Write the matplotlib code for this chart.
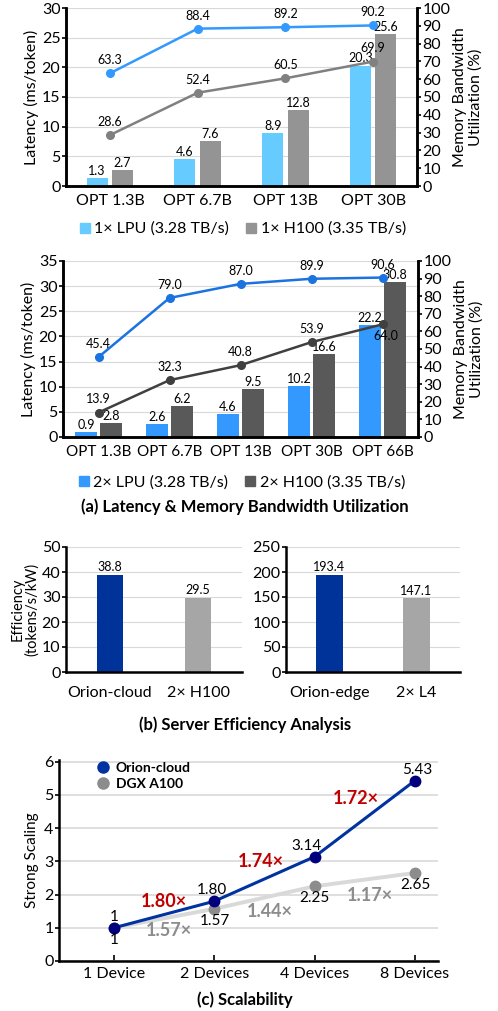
import numpy as np
import matplotlib
matplotlib.use('Agg')
import matplotlib.pyplot as plt
from matplotlib.lines import Line2D

plt.rcParams['font.family'] = ['Lato', 'DejaVu Sans']

W, H = 498, 1011

# ---- datos (a) ----
models_1 = ['OPT 1.3B', 'OPT 6.7B', 'OPT 13B', 'OPT 30B']
lat_lpu_1 = [1.3, 4.6, 8.9, 20.3]
lat_h100_1 = [2.7, 7.6, 12.8, 25.6]
util_lpu_1 = [63.3, 88.4, 89.2, 90.2]
util_h100_1 = [28.6, 52.4, 60.5, 69.9]

models_2 = ['OPT 1.3B', 'OPT 6.7B', 'OPT 13B', 'OPT 30B', 'OPT 66B']
lat_lpu_2 = [0.9, 2.6, 4.6, 10.2, 22.2]
lat_h100_2 = [2.8, 6.2, 9.5, 16.6, 30.8]
util_lpu_2 = [45.4, 79.0, 87.0, 89.9, 90.6]
util_h100_2 = [13.9, 32.3, 40.8, 53.9, 64.0]

# ---- datos (b) ----
cloud_names = ['Orion-cloud', '2× H100']
cloud_eff = [38.8, 29.5]
edge_names = ['Orion-edge', '2× L4']
edge_eff = [193.4, 147.1]

# ---- datos (c) ----
devices = ['1 Device', '2 Devices', '4 Devices', '8 Devices']
orion_scaling = [1, 1.80, 3.14, 5.43]
dgx_scaling = [1, 1.57, 2.25, 2.65]
orion_step = ['1.80×', '1.74×', '1.72×']
dgx_step = ['1.57×', '1.44×', '1.17×']

TICK = 11.5
VAL = 9


def rect(l, t, r, b):
    return [l / W, 1 - b / H, (r - l) / W, (b - t) / H]


def style_axes(ax, right=False):
    for s in ['left', 'bottom', 'right']:
        ax.spines[s].set_linewidth(1.8)
        ax.spines[s].set_color('black')
    ax.spines['top'].set_visible(False)
    if not right:
        ax.spines['right'].set_visible(False)


fig = plt.figure(figsize=(W / 100, H / 100), dpi=100)

# ============================================================================
# (a) paneles de latencia
# ============================================================================
def latency_panel(box, models, lpu, h100, u_lpu, u_h100, ymax, cols, lcols,
                  off, bw, labels, lbl_fix, xfs, leg_y):
    ax = fig.add_axes(rect(*box))
    x = np.arange(len(models))
    ax.bar(x - off, lpu, bw, color=cols[0], zorder=2)
    ax.bar(x + off, h100, bw, color=cols[1], zorder=2)
    for xi, v in zip(x, lpu):
        ax.text(xi - off, v + 0.2, f'{v}', ha='center', va='bottom', fontsize=VAL, zorder=5)
    for xi, v in zip(x, h100):
        ax.text(xi + off, v + 0.2, f'{v}', ha='center', va='bottom', fontsize=VAL, zorder=5)
    ax.set_xlim(-0.5, len(models) - 0.5)
    ax.set_ylim(0, ymax)
    ax.set_yticks(np.arange(0, ymax + 1, 5))
    ax.yaxis.grid(True, color='#d9d9d9', linewidth=0.8, zorder=0)
    ax.set_axisbelow(True)
    ax.set_xticks(x)
    ax.set_xticklabels(models, fontsize=xfs)
    ax.tick_params(axis='x', length=0, pad=6)
    ax.tick_params(axis='y', labelsize=TICK, width=1.2, length=3, pad=1)
    ax.set_ylabel('Latency (ms/token)', fontsize=TICK, labelpad=2)
    style_axes(ax, right=True)

    ax2 = ax.twinx()
    ax2.plot(x, u_lpu, color=lcols[0], lw=1.8, marker='o', ms=5.5, zorder=4)
    ax2.plot(x, u_h100, color=lcols[1], lw=1.8, marker='o', ms=5.5, zorder=4)
    for xi, v in zip(x, u_lpu):
        ax2.text(xi, v + 4, f'{v:.1f}', ha='center', va='bottom', fontsize=VAL, zorder=5)
    for i, (xi, v) in enumerate(zip(x, u_h100)):
        dx, dy, va = lbl_fix.get(i, (0, 4, 'bottom'))
        ax2.text(xi + dx, v + dy, f'{v:.1f}', ha='center', va=va, fontsize=VAL, zorder=5)
    ax2.set_ylim(0, 100)
    ax2.set_yticks(np.arange(0, 101, 10))
    ax2.tick_params(axis='y', labelsize=TICK, width=1.2, length=3, pad=1)
    ax2.set_ylabel('Memory Bandwidth\nUtilization (%)', fontsize=TICK, labelpad=2,
                   linespacing=1.05)
    for s in ['left', 'bottom', 'right']:
        ax2.spines[s].set_linewidth(1.8)
    ax2.spines['top'].set_visible(False)

    handles = [Line2D([], [], marker='s', ls='', color=cols[0], ms=7),
               Line2D([], [], marker='s', ls='', color=cols[1], ms=7)]
    ax.legend(handles, labels, loc='upper center', bbox_to_anchor=(0.5, leg_y),
              ncol=2, frameon=False, fontsize=TICK, handletextpad=0.1,
              columnspacing=0.9, borderaxespad=0, handlelength=1.0)
    return ax


latency_panel((66, 8, 417, 186), models_1, lat_lpu_1, lat_h100_1,
              util_lpu_1, util_h100_1, 30,
              ('#66ccff', '#949494'), ('#3399ff', '#808080'), 0.145, 0.24,
              ['1× LPU (3.28 TB/s)', '1× H100 (3.35 TB/s)'],
              {3: (0, 4, 'bottom')}, TICK, -0.165)

latency_panel((63, 261, 418, 437), models_2, lat_lpu_2, lat_h100_2,
              util_lpu_2, util_h100_2, 35,
              ('#3399ff', '#595959'), ('#1a73e0', '#404040'), 0.176, 0.3,
              ['2× LPU (3.28 TB/s)', '2× H100 (3.35 TB/s)'],
              {4: (0.05, -3, 'top')}, 11, -0.18)

fig.text(245 / W, 1 - 507 / H, '(a) Latency & Memory Bandwidth Utilization',
         ha='center', va='center', fontsize=12, fontweight='bold')

# ============================================================================
# (b) eficiencia
# ============================================================================
def eff_panel(box, names, vals, ymax, step, ylabel=None):
    ax = fig.add_axes(rect(*box))
    x = np.arange(len(names))
    ax.bar(x, vals, 0.3, color=['#003399', '#a6a6a6'], zorder=2)
    for xi, v in zip(x, vals):
        ax.text(xi, v + ymax * 0.015, f'{v}', ha='center', va='bottom', fontsize=VAL)
    ax.set_xlim(-0.5, 1.5)
    ax.set_ylim(0, ymax)
    ax.set_yticks(np.arange(0, ymax + 1, step))
    ax.yaxis.grid(True, color='#d9d9d9', linewidth=0.8, zorder=0)
    ax.set_axisbelow(True)
    ax.set_xticks(x)
    ax.set_xticklabels(names, fontsize=TICK)
    ax.tick_params(axis='x', length=0, pad=10)
    ax.tick_params(axis='y', labelsize=TICK, width=1.2, length=3, pad=1)
    if ylabel:
        ax.set_ylabel(ylabel, fontsize=10.5, labelpad=2, linespacing=1.0)
    style_axes(ax)
    return ax


eff_panel((66, 547, 242, 672), cloud_names, cloud_eff, 50, 10,
          'Efficiency\n(tokens/s/kW)')
eff_panel((286, 547, 460, 672), edge_names, edge_eff, 250, 50)

fig.text(245 / W, 1 - 725 / H, '(b) Server Efficiency Analysis',
         ha='center', va='center', fontsize=12, fontweight='bold')

# ============================================================================
# (c) escalabilidad
# ============================================================================
ax = fig.add_axes(rect(59, 760, 438, 961))
x = np.arange(len(devices))
ax.plot(x, dgx_scaling, color='#d9d9d9', lw=2.8, zorder=3)
ax.plot(x, dgx_scaling, ls='', marker='o', color='#8c8c8c', ms=7.5, zorder=4)
ax.plot(x, orion_scaling, color='#0033a0', lw=2.2, zorder=5)
ax.plot(x, orion_scaling, ls='', marker='o', color='#00007f', ms=7.5, zorder=6)

orion_lbl = [(0, 0.12, 'bottom'), (-0.02, 0.12, 'bottom'), (-0.08, 0.12, 'bottom'), (0.02, 0.12, 'bottom')]
for xi, v, (dx, dy, va) in zip(x, orion_scaling, orion_lbl):
    txt = '1' if v == 1 else f'{v:.2f}'
    ax.text(xi + dx, v + dy, txt, ha='center', va=va, fontsize=11, zorder=7)
dgx_lbl = [(0, -0.15, 'top'), (0, -0.15, 'top'), (0, -0.15, 'top'), (0, -0.15, 'top')]
for xi, v, (dx, dy, va) in zip(x, dgx_scaling, dgx_lbl):
    txt = '1' if v == 1 else f'{v:.2f}'
    ax.text(xi + dx, v + dy, txt, ha='center', va=va, fontsize=11, zorder=7)

orion_pos = [(0.5, 1.8), (1.46, 3.0), (2.41, 4.9)]
for (px, py), t in zip(orion_pos, orion_step):
    ax.text(px, py, t, color='#c00000', fontsize=13, fontweight='bold',
            ha='center', va='center', zorder=8)
dgx_pos = [(0.55, 0.91), (1.55, 1.5), (2.55, 1.97)]
for (px, py), t in zip(dgx_pos, dgx_step):
    ax.text(px, py, t, color='#8c8c8c', fontsize=13, fontweight='bold',
            ha='center', va='center', zorder=8)

ax.set_xlim(-0.55, 3.23)
ax.set_ylim(0, 6.05)
ax.set_yticks(np.arange(0, 7, 1))
ax.yaxis.grid(True, color='#d9d9d9', linewidth=1.2, zorder=0)
ax.set_axisbelow(True)
ax.set_xticks(x)
ax.set_xticklabels(devices, fontsize=TICK)
ax.tick_params(axis='x', labelsize=TICK, width=1.2, length=4, direction='in', pad=4)
ax.tick_params(axis='y', labelsize=TICK, width=1.2, length=3, pad=1)
ax.set_ylabel('Strong Scaling', fontsize=11, labelpad=4)
style_axes(ax)

handles = [Line2D([], [], marker='o', ls='', color='#0033a0', ms=8),
           Line2D([], [], marker='o', ls='', color='#8c8c8c', ms=8)]
leg = ax.legend(handles, ['Orion-cloud', 'DGX A100'], loc='upper left',
                bbox_to_anchor=(0.08, 1.02), frameon=False, fontsize=10,
                handletextpad=0.3, labelspacing=0.3, borderaxespad=0,
                handlelength=1.2)
for t in leg.get_texts():
    t.set_fontweight('bold')

fig.text(245 / W, 1 - 1000 / H, '(c) Scalability',
         ha='center', va='center', fontsize=12, fontweight='bold')

fig.savefig('out.png', dpi=100)
